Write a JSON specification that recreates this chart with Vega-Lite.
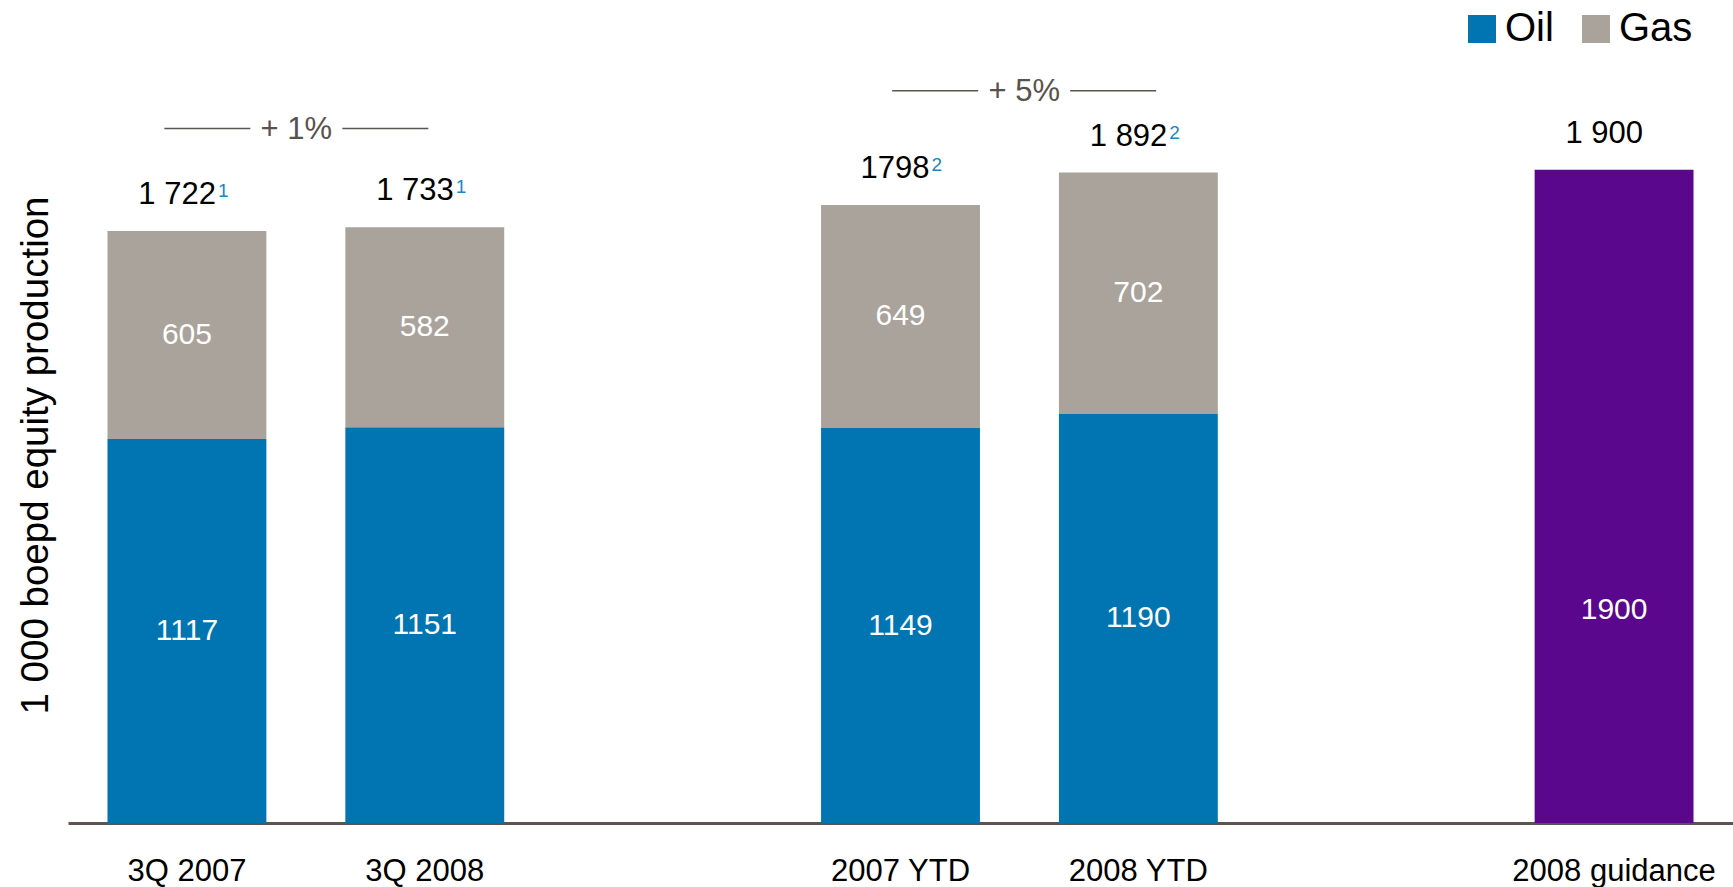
{
  "$schema": "https://vega.github.io/schema/vega-lite/v6.json",
  "width": 1665,
  "height": 823,
  "autosize": {"type": "none"},
  "padding": {"left": 68, "top": 0, "right": 0, "bottom": 64},
  "config": {
    "view": {"stroke": null},
    "font": "Liberation Sans",
    "text": {"font": "Liberation Sans"},
    "axisY": {"labels": false, "ticks": false, "domain": false, "grid": false, "titleFontSize": 38.5, "titleFontWeight": "normal", "titleColor": "#000000", "titleX": -33, "titleY": 455, "titleAngle": 270, "titleAlign": "center", "titleBaseline": "middle", "titleLimit": 900}
  },
  "datasets": {
    "bars": [
      {"cat": "3Q 2007", "series": "Oil", "value": 1117},
      {"cat": "3Q 2007", "series": "Gas", "value": 605},
      {"cat": "3Q 2008", "series": "Oil", "value": 1151},
      {"cat": "3Q 2008", "series": "Gas", "value": 582},
      {"cat": "2007 YTD", "series": "Oil", "value": 1149},
      {"cat": "2007 YTD", "series": "Gas", "value": 649},
      {"cat": "2008 YTD", "series": "Oil", "value": 1190},
      {"cat": "2008 YTD", "series": "Gas", "value": 702},
      {"cat": "2008 guidance", "series": "Guidance", "value": 1900}
    ],
    "totals": [
      {"cat": "3Q 2007", "total": 1722, "label": "1 722", "note": "1"},
      {"cat": "3Q 2008", "total": 1733, "label": "1 733", "note": "1"},
      {"cat": "2007 YTD", "total": 1798, "label": "1798", "note": "\u00a02"},
      {"cat": "2008 YTD", "total": 1892, "label": "1 892", "note": "2"},
      {"cat": "2008 guidance", "total": 1900, "label": "1 900", "note": ""}
    ],
    "changes": [
      {"mid": 0.96, "level": 2020, "label": "+ 1%"},
      {"mid": 4.02, "level": 2130, "label": "+ 5%"}
    ]
  },
  "layer": [
    {
      "data": {"name": "bars"},
      "mark": {"type": "bar"},
      "encoding": {
        "x": {
          "field": "cat", "type": "nominal",
          "scale": {"domain": ["3Q 2007", "3Q 2008", " ", "2007 YTD", "2008 YTD", "  ", "2008 guidance"], "paddingInner": 0.332, "paddingOuter": 0.166},
          "axis": {"title": null, "ticks": false, "labelAngle": 0, "labelFontSize": 31, "labelColor": "#000000", "labelPadding": 33, "labelLimit": 400, "domainColor": "#5A5550", "domainWidth": 3, "grid": false}
        },
        "y": {
          "field": "value", "type": "quantitative", "stack": "zero",
          "scale": {"domain": [0, 2394], "nice": false},
          "title": "1 000 boepd equity production"
        },
        "color": {
          "field": "series", "type": "nominal",
          "scale": {"domain": ["Oil", "Gas", "Guidance"], "range": ["#0075B2", "#A9A39C", "#5B078D"]},
          "legend": {"values": ["Oil", "Gas"], "title": null, "orient": "none", "legendX": 1394, "legendY": 9, "direction": "horizontal", "symbolType": "square", "symbolSize": 784, "symbolStrokeWidth": 0, "labelFontSize": 40, "labelColor": "#000000", "labelOffset": 3, "columnPadding": 22, "padding": 0}
        },
        "order": {"field": "series", "sort": "descending"}
      }
    },
    {
      "data": {"name": "bars"},
      "transform": [
        {"filter": "datum.series !== 'Guidance'"},
        {"stack": "value", "groupby": ["cat"], "sort": [{"field": "series", "order": "descending"}], "as": ["y0", "y1"]},
        {"calculate": "(datum.y0 + datum.y1) / 2", "as": "mid"}
      ],
      "mark": {"type": "text", "color": "#FFFFFF", "fontSize": 30, "baseline": "middle", "align": "center"},
      "encoding": {
        "x": {"field": "cat", "type": "nominal", "scale": {"domain": ["3Q 2007", "3Q 2008", " ", "2007 YTD", "2008 YTD", "  ", "2008 guidance"], "paddingInner": 0.332, "paddingOuter": 0.166}, "axis": null},
        "y": {"field": "mid", "type": "quantitative", "scale": {"domain": [0, 2394], "nice": false}, "title": "1 000 boepd equity production"},
        "text": {"field": "value", "type": "quantitative", "format": "d"}
      }
    },
    {
      "data": {"name": "bars"},
      "transform": [
        {"filter": "datum.series === 'Guidance'"},
        {"calculate": "datum.value / 2", "as": "mid"}
      ],
      "mark": {"type": "text", "color": "#FFFFFF", "fontSize": 30, "baseline": "middle", "align": "center", "dy": 114},
      "encoding": {
        "x": {"field": "cat", "type": "nominal", "scale": {"domain": ["3Q 2007", "3Q 2008", " ", "2007 YTD", "2008 YTD", "  ", "2008 guidance"], "paddingInner": 0.332, "paddingOuter": 0.166}, "axis": null},
        "y": {"field": "mid", "type": "quantitative", "scale": {"domain": [0, 2394], "nice": false}, "title": "1 000 boepd equity production"},
        "text": {"field": "value", "type": "quantitative", "format": "d"}
      }
    },
    {
      "data": {"name": "totals"},
      "mark": {"type": "text", "color": "#000000", "fontSize": 31, "baseline": "alphabetic", "align": "right", "dx": 29, "dy": -27},
      "encoding": {
        "x": {"field": "cat", "type": "nominal", "scale": {"domain": ["3Q 2007", "3Q 2008", " ", "2007 YTD", "2008 YTD", "  ", "2008 guidance"], "paddingInner": 0.332, "paddingOuter": 0.166}, "axis": null},
        "y": {"field": "total", "type": "quantitative", "scale": {"domain": [0, 2394], "nice": false}, "title": "1 000 boepd equity production"},
        "text": {"field": "label", "type": "nominal"}
      }
    },
    {
      "data": {"name": "totals"},
      "mark": {"type": "text", "color": "#1A86C4", "fontSize": 19, "baseline": "alphabetic", "align": "left", "dx": 31, "dy": -34},
      "encoding": {
        "x": {"field": "cat", "type": "nominal", "scale": {"domain": ["3Q 2007", "3Q 2008", " ", "2007 YTD", "2008 YTD", "  ", "2008 guidance"], "paddingInner": 0.332, "paddingOuter": 0.166}, "axis": null},
        "y": {"field": "total", "type": "quantitative", "scale": {"domain": [0, 2394], "nice": false}, "title": "1 000 boepd equity production"},
        "text": {"field": "note", "type": "nominal"}
      }
    },
    {
      "data": {"name": "changes"},
      "mark": {"type": "rule", "color": "#5A5550", "strokeWidth": 1.5, "xOffset": -132, "x2Offset": -46},
      "encoding": {
        "x": {"field": "mid", "type": "quantitative", "scale": {"domain": [0, 7], "nice": false, "zero": false}, "axis": null},
        "x2": {"field": "mid"},
        "y": {"field": "level", "type": "quantitative", "scale": {"domain": [0, 2394], "nice": false}, "title": "1 000 boepd equity production"}
      }
    },
    {
      "data": {"name": "changes"},
      "mark": {"type": "rule", "color": "#5A5550", "strokeWidth": 1.5, "xOffset": 46, "x2Offset": 132},
      "encoding": {
        "x": {"field": "mid", "type": "quantitative", "scale": {"domain": [0, 7], "nice": false, "zero": false}, "axis": null},
        "x2": {"field": "mid"},
        "y": {"field": "level", "type": "quantitative", "scale": {"domain": [0, 2394], "nice": false}, "title": "1 000 boepd equity production"}
      }
    },
    {
      "data": {"name": "changes"},
      "mark": {"type": "text", "color": "#58524C", "fontSize": 31, "baseline": "middle", "align": "center", "dy": 1},
      "encoding": {
        "x": {"field": "mid", "type": "quantitative", "scale": {"domain": [0, 7], "nice": false, "zero": false}, "axis": null},
        "y": {"field": "level", "type": "quantitative", "scale": {"domain": [0, 2394], "nice": false}, "title": "1 000 boepd equity production"},
        "text": {"field": "label", "type": "nominal"}
      }
    }
  ],
  "resolve": {"scale": {"x": "independent"}}
}
